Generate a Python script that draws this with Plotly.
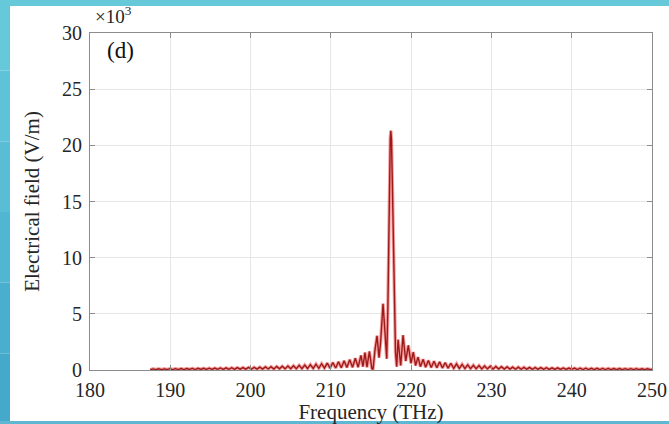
import plotly.graph_objects as go

# Spectrum of the electric field, values in units of 10^3 V/m
freq_left = [187.5, 187.85, 188.2, 188.55, 188.9, 189.25, 189.6, 189.95, 190.3, 190.65,
             191.0, 191.35, 191.7, 192.05, 192.4, 192.75, 193.1, 193.45, 193.8, 194.15,
             194.5, 194.85, 195.2, 195.55, 195.9, 196.25, 196.6, 196.95, 197.3, 197.65,
             198.0, 198.35, 198.7, 199.05, 199.4, 199.75, 200.1, 200.45, 200.8, 201.15,
             201.5, 201.85, 202.2, 202.55, 202.9, 203.25, 203.6, 203.95, 204.3, 204.65,
             205.0, 205.35, 205.7, 206.05, 206.4, 206.75, 207.1, 207.45, 207.8, 208.15,
             208.5, 208.85, 209.2, 209.55, 209.9, 210.25, 210.6, 210.95, 211.3, 211.65,
             212.0, 212.35, 212.7, 213.05, 213.4]
field_left = [0.02, 0.10, 0.03, 0.11, 0.03, 0.10, 0.04, 0.12, 0.03, 0.12,
              0.04, 0.13, 0.04, 0.13, 0.05, 0.14, 0.04, 0.15, 0.05, 0.15,
              0.05, 0.16, 0.05, 0.17, 0.06, 0.18, 0.05, 0.19, 0.06, 0.20,
              0.06, 0.21, 0.07, 0.22, 0.07, 0.23, 0.07, 0.24, 0.08, 0.26,
              0.08, 0.27, 0.09, 0.29, 0.09, 0.31, 0.10, 0.33, 0.10, 0.35,
              0.11, 0.38, 0.12, 0.41, 0.12, 0.44, 0.13, 0.48, 0.14, 0.52,
              0.15, 0.56, 0.16, 0.61, 0.17, 0.67, 0.18, 0.74, 0.20, 0.82,
              0.22, 0.92, 0.24, 1.05, 0.25]

freq_core = [213.75, 214.0, 214.25, 214.5, 214.8, 215.1, 215.25, 215.5, 215.75, 216.0,
             216.2, 216.5, 216.7, 216.96, 217.1, 217.2, 217.3, 217.4, 217.47, 217.55,
             217.65, 217.75, 217.85, 217.95, 218.05, 218.2, 218.37, 218.7, 218.99, 219.32,
             219.65, 219.98, 220.27, 220.55, 220.86, 221.15, 221.5, 221.8]
field_core = [1.30, 0.30, 1.55, 0.25, 1.65, 0.15, 0.05, 1.8, 3.05, 1.1,
              2.5, 5.9, 3.5, 1.0, 5.5, 11.5, 17.0, 20.6, 21.3, 20.5,
              17.0, 12.0, 7.5, 4.0, 1.6, 0.3, 2.7, 0.4, 3.1, 0.8,
              2.2, 0.6, 1.6, 0.4, 1.15, 0.3, 0.95, 0.25]

freq_right = [222.15, 222.5, 222.85, 223.2, 223.55, 223.9, 224.25, 224.6, 224.95, 225.3,
              225.65, 226.0, 226.35, 226.7, 227.05, 227.4, 227.75, 228.1, 228.45, 228.8,
              229.15, 229.5, 229.85, 230.2, 230.55, 230.9, 231.25, 231.6, 231.95, 232.3,
              232.65, 233.0, 233.35, 233.7, 234.05, 234.4, 234.75, 235.1, 235.45, 235.8,
              236.15, 236.5, 236.85, 237.2, 237.55, 237.9, 238.25, 238.6, 238.95, 239.3,
              239.65, 240.0, 240.35, 240.7, 241.05, 241.4, 241.75, 242.1, 242.45, 242.8,
              243.15, 243.5, 243.85, 244.2, 244.55, 244.9, 245.25, 245.6, 245.95, 246.3,
              246.65, 247.0, 247.35, 247.7, 248.05, 248.4, 248.75, 249.1, 249.45, 249.8,
              250.0]
field_right = [0.85, 0.22, 0.78, 0.20, 0.72, 0.18, 0.65, 0.17, 0.60, 0.15,
               0.55, 0.14, 0.50, 0.13, 0.46, 0.12, 0.42, 0.11, 0.39, 0.10,
               0.36, 0.10, 0.33, 0.09, 0.31, 0.09, 0.29, 0.08, 0.27, 0.08,
               0.26, 0.07, 0.25, 0.07, 0.24, 0.07, 0.23, 0.06, 0.22, 0.06,
               0.21, 0.06, 0.20, 0.05, 0.19, 0.05, 0.19, 0.05, 0.18, 0.05,
               0.17, 0.05, 0.17, 0.04, 0.16, 0.04, 0.16, 0.04, 0.15, 0.04,
               0.15, 0.04, 0.14, 0.04, 0.14, 0.03, 0.13, 0.03, 0.13, 0.03,
               0.12, 0.03, 0.12, 0.03, 0.12, 0.03, 0.11, 0.03, 0.11, 0.03,
               0.07]

freq = freq_left + freq_core + freq_right
field = field_left + field_core + field_right

x_ticks = [180, 190, 200, 210, 220, 230, 240, 250]
y_ticks = [0, 5, 10, 15, 20, 25, 30]

W, H = 669, 424
ML, MR, MT, MB = 90, 17, 33, 54
PW, PH = W - ML - MR, H - MT - MB

FONT = "Liberation Serif, Times New Roman, serif"
TXT = "#262626"


def px(x):
    return (x - ML) / PW


def py(y):
    return (H - MB - y) / PH


fig = go.Figure()
# soft red halo under the curve
fig.add_trace(go.Scatter(x=freq, y=field, mode="lines",
                         line=dict(color="rgba(235,40,40,0.45)", width=3.4),
                         hoverinfo="skip", showlegend=False))
fig.add_trace(go.Scatter(x=freq, y=field, mode="lines",
                         line=dict(color="#9c1a1a", width=1.4),
                         showlegend=False))

axis_common = dict(
    showline=True, linecolor="#8c8c8c", linewidth=1, mirror="ticks",
    ticks="inside", ticklen=5, tickcolor="#8c8c8c", tickwidth=1,
    showgrid=True, gridcolor="#e6e6e6", gridwidth=1, zeroline=False,
    automargin=False,
    tickfont=dict(family=FONT, size=20, color=TXT),
)

fig.update_xaxes(range=[180, 250], tickvals=x_ticks, ticktext=[str(v) for v in x_ticks],
                 ticklabelstandoff=2,
                 title=dict(text="Frequency (THz)", font=dict(family=FONT, size=21, color=TXT),
                            standoff=0),
                 **axis_common)
fig.update_yaxes(range=[0, 30], tickvals=y_ticks, ticktext=[str(v) for v in y_ticks],
                 ticklabelstandoff=3,
                 title=dict(text="Electrical field (V/m)", font=dict(family=FONT, size=21, color=TXT),
                            standoff=16),
                 **axis_common)

# framing: cyan strips around the white panel
shapes = []
left_cols = ["#66c9da", "#5fc3d8", "#58bdd5", "#51b6d2", "#4aafce", "#44a9cb"]
n = len(left_cols)
for i, c in enumerate(left_cols):
    y0 = H * i / n
    y1 = H * (i + 1) / n
    shapes.append(dict(type="rect", xref="paper", yref="paper", layer="above",
                       x0=px(0), x1=px(10), y0=py(y1), y1=py(y0),
                       fillcolor=c, line=dict(width=0)))
shapes.append(dict(type="rect", xref="paper", yref="paper", layer="above",
                   x0=px(0), x1=px(W), y0=py(6), y1=py(0),
                   fillcolor="#66c9da", line=dict(width=0)))
shapes.append(dict(type="rect", xref="paper", yref="paper", layer="above",
                   x0=px(0), x1=px(W), y0=py(H), y1=py(421),
                   fillcolor="#5fb8d2", line=dict(width=0)))

annotations = [
    dict(text="×10<sup>3</sup>", xref="paper", yref="paper", x=px(93), y=py(29),
         xanchor="left", yanchor="bottom", showarrow=False,
         font=dict(family=FONT, size=19, color=TXT)),
    dict(text="(d)", xref="paper", yref="paper", x=px(105), y=py(51),
         xanchor="left", yanchor="middle", showarrow=False,
         font=dict(family=FONT, size=23, color="#111111")),
]

fig.update_layout(
    width=W, height=H,
    margin=dict(l=ML, r=MR, t=MT, b=MB, autoexpand=False),
    paper_bgcolor="white", plot_bgcolor="white",
    shapes=shapes, annotations=annotations,
    showlegend=False,
)

fig.write_html("out.html")
